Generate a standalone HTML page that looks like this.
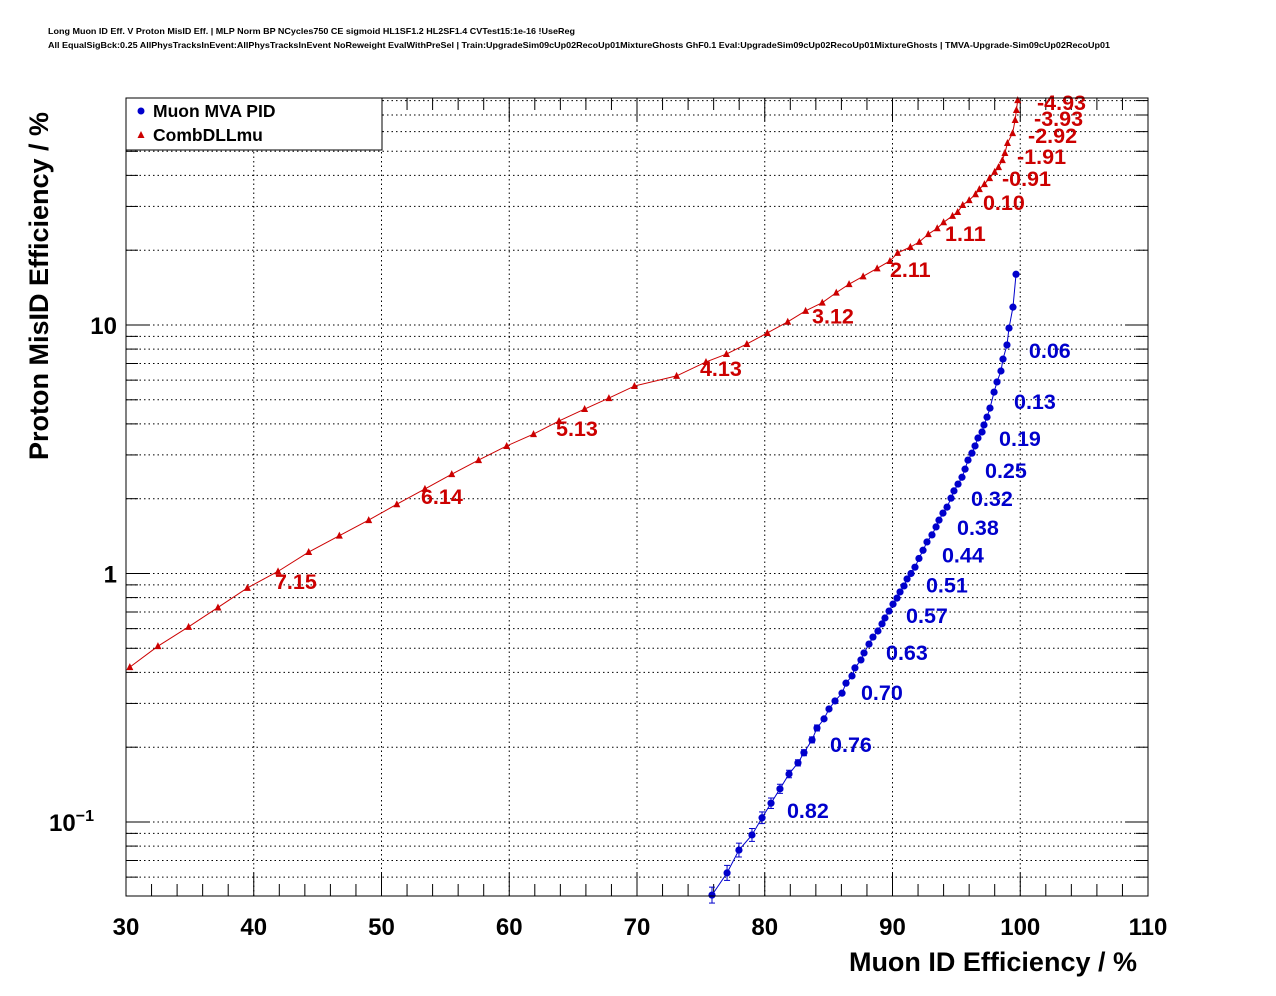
<!DOCTYPE html>
<html><head><meta charset="utf-8"><style>
body{margin:0;background:#fff;}
svg{display:block;font-family:"Liberation Sans",sans-serif;}
</style></head><body>
<svg id="chart" width="1276" height="996">
<text x="48" y="34" font-size="8.5" font-weight="bold" textLength="527" lengthAdjust="spacingAndGlyphs">Long Muon ID Eff. V Proton MisID Eff. | MLP Norm BP NCycles750 CE sigmoid HL1SF1.2 HL2SF1.4 CVTest15:1e-16 !UseReg</text>
<text x="48" y="48" font-size="8.5" font-weight="bold" textLength="1062" lengthAdjust="spacingAndGlyphs">All EqualSigBck:0.25 AllPhysTracksInEvent:AllPhysTracksInEvent NoReweight EvalWithPreSel | Train:UpgradeSim09cUp02RecoUp01MixtureGhosts GhF0.1 Eval:UpgradeSim09cUp02RecoUp01MixtureGhosts | TMVA-Upgrade-Sim09cUp02RecoUp01</text>
<g id="grid"></g><g id="ticks"></g><g id="series"></g>
<rect x="126" y="98" width="1022" height="798" fill="none" stroke="#000" stroke-width="1"/>
<g>
<rect x="126" y="98" width="256" height="52" fill="#fff" stroke="#000" stroke-width="1"/>
<circle cx="141" cy="111" r="3.5" fill="#0000cc"/>
<text x="153" y="117" font-size="17.5" font-weight="bold">Muon MVA PID</text>
<polygon points="141,131 137.5,138 144.5,138" fill="#cc0000"/>
<text x="153" y="141" font-size="17.5" font-weight="bold">CombDLLmu</text>
</g>
<text x="1137" y="971" font-size="27" font-weight="bold" text-anchor="end">Muon ID Efficiency / %</text>
<text transform="translate(48,286) rotate(-90)" font-size="27" font-weight="bold" text-anchor="middle">Proton MisID Efficiency / %</text>
</svg>
<script>
const xTicks=[30,40,50,60,70,80,90,100,110];
const yMajor=[0.1,1,10];
const redX=[30.3,32.5,34.9,37.2,39.5,41.9,44.3,46.7,49.0,51.2,53.4,55.5,57.6,59.8,61.9,63.9,65.9,67.8,69.8,73.1,75.4,77.0,78.6,80.2,81.8,83.2,84.5,85.6,86.6,87.7,88.8,89.8,90.4,91.4,92.1,92.8,93.5,94.0,94.7,95.1,95.5,96.0,96.5,96.8,97.2,97.6,98.0,98.3,98.6,98.8,99.0,99.4,99.6,99.7,99.8];
const redY=[0.42,0.51,0.61,0.73,0.875,1.02,1.22,1.42,1.64,1.9,2.19,2.51,2.86,3.26,3.64,4.11,4.59,5.08,5.68,6.24,7.1,7.64,8.39,9.29,10.3,11.4,12.3,13.5,14.6,15.7,16.9,18.1,19.5,20.6,21.6,23.2,24.5,25.9,27.5,28.5,30.4,31.8,33.6,35.2,36.9,39.0,41.3,43.2,46.1,49.2,54.0,59.2,66.8,73.3,80.3];
const blueX=[75.87,77.05,77.98,79.00,79.79,80.49,81.19,81.90,82.60,83.07,83.70,84.09,84.64,85.03,85.50,86.05,86.36,86.83,87.06,87.53,87.77,88.16,88.47,88.86,89.18,89.41,89.73,90.04,90.35,90.59,90.90,91.14,91.45,91.76,92.07,92.39,92.70,93.09,93.41,93.64,93.95,94.27,94.58,94.81,95.13,95.44,95.68,95.91,96.22,96.46,96.69,97.01,97.16,97.40,97.63,97.95,98.18,98.49,98.65,98.96,99.12,99.43,99.67];
const blueY=[0.0508,0.0624,0.0771,0.0887,0.104,0.119,0.136,0.156,0.173,0.190,0.214,0.239,0.260,0.285,0.307,0.330,0.362,0.387,0.417,0.449,0.479,0.520,0.555,0.587,0.627,0.662,0.706,0.753,0.796,0.843,0.891,0.951,1.00,1.06,1.15,1.24,1.34,1.43,1.54,1.64,1.75,1.85,2.01,2.15,2.29,2.44,2.63,2.86,3.05,3.26,3.51,3.71,3.96,4.26,4.63,5.37,5.90,6.53,7.29,8.31,9.72,11.8,16.0];
const redLabels=["7.15","6.14","5.13","4.13","3.12","2.11","1.11","0.10","-0.91","-1.91","-2.92","-3.93","-4.93"];
const redLabelX=[41.66,53.09,63.66,74.93,83.70,89.80,94.11,97.08,98.57,99.75,100.61,101.08,101.31];
const redLabelY=[0.933,2.05,3.85,6.71,10.9,16.8,23.4,31.3,39.1,47.9,58.2,68.1,78.9];
const blueLabels=["0.06","0.13","0.19","0.25","0.32","0.38","0.44","0.51","0.57","0.63","0.70","0.76","0.82"];
const blueLabelX=[100.68,99.51,98.34,97.24,96.14,95.05,93.87,92.62,91.06,89.49,87.53,85.11,81.74];
const blueLabelY=[7.94,4.94,3.51,2.61,2.01,1.54,1.19,0.903,0.680,0.483,0.333,0.206,0.112];

const L=126,R=1148,T=98,B=896;
const X=v=>L+(v-30)*(R-L)/80;
const Y=v=>325-(Math.log10(v)-1)*248.5;
const NS="http://www.w3.org/2000/svg";
function mk(tag,attrs,parent){const e=document.createElementNS(NS,tag);for(const k in attrs)e.setAttribute(k,attrs[k]);parent.appendChild(e);return e;}
const grid=document.getElementById('grid'),ticks=document.getElementById('ticks'),ser=document.getElementById('series'),svg=document.getElementById('chart');
for(const t of xTicks){
  const x=X(t);
  if(t>30&&t<110){const g=mk('line',{x1:x,x2:x,y1:T,y2:B,stroke:'#000','stroke-dasharray':'1.5,3','stroke-width':1},grid);
  
  }
  const lb=mk('text',{x:x,y:935,'font-size':24,'font-weight':'bold','text-anchor':'middle'},svg);
  lb.textContent=t;
  
  
}
for(let v=30;v<=110;v+=2){const x=X(v);const len=(v%10===0)?23:12;
  mk('line',{x1:x,x2:x,y1:B,y2:B-len,stroke:'#000'},ticks);
  mk('line',{x1:x,x2:x,y1:T,y2:T+len,stroke:'#000'},ticks);}
for(const d of [0.01,0.1,1,10]){for(let m=1;m<=9;m++){const v=d*m;const y=Y(v);if(y<T||y>B)continue;
  const g=mk('line',{x1:L,x2:R,y1:y,y2:y,stroke:'#000','stroke-dasharray':'1.5,3'},grid);
  
  
  const len=m===1?23:12;
  mk('line',{x1:L,x2:L+len,y1:y,y2:y,stroke:'#000'},ticks);
  mk('line',{x1:R,x2:R-len,y1:y,y2:y,stroke:'#000'},ticks);}}
yMajor.forEach((v,i)=>{const t=mk('text',{x:117,y:Y(v)+9,'font-size':24,'font-weight':'bold','text-anchor':'end'},svg);
  
  
  if(v===0.1){t.setAttribute('x',94);t.textContent='10';const s=mk('tspan',{dy:-10,'font-size':16},t);s.textContent='−1';}
  else t.textContent=v;});
const rp=redX.map((x,i)=>X(x)+','+Y(redY[i])).join(' ');
const rl=mk('polyline',{points:rp,fill:'none',stroke:'#cc0000','stroke-width':1},ser);


redX.forEach((x,i)=>{const cx=X(x),cy=Y(redY[i]);
  const p=mk('polygon',{points:`${cx},${cy-4} ${cx-3.5},${cy+3} ${cx+3.5},${cy+3}`,fill:'#cc0000'},ser);
  
  });
const bp=blueX.map((x,i)=>X(x)+','+Y(blueY[i])).join(' ');
const bl=mk('polyline',{points:bp,fill:'none',stroke:'#0000cc','stroke-width':1},ser);


blueX.forEach((x,i)=>{const cx=X(x),cy=Y(blueY[i]);
  if(blueY[i]<0.25){const e=Math.max(3,(0.25-blueY[i])*40);
    mk('line',{x1:cx,x2:cx,y1:cy-e,y2:cy+e,stroke:'#0000cc'},ser);
    mk('line',{x1:cx-3,x2:cx+3,y1:cy-e,y2:cy-e,stroke:'#0000cc'},ser);
    mk('line',{x1:cx-3,x2:cx+3,y1:cy+e,y2:cy+e,stroke:'#0000cc'},ser);}
  const c=mk('circle',{cx:cx,cy:cy,r:3.6,fill:'#0000cc'},ser);
  
  });
redLabels.forEach((s,i)=>{const t=mk('text',{x:X(redLabelX[i]),y:Y(redLabelY[i])+8,'font-size':21.5,'font-weight':'bold',fill:'#cc0000'},ser);
  t.textContent=s;
  
  });
blueLabels.forEach((s,i)=>{const t=mk('text',{x:X(blueLabelX[i]),y:Y(blueLabelY[i])+8,'font-size':21.5,'font-weight':'bold',fill:'#0000cc'},ser);
  t.textContent=s;
  
  });
</script>
</body></html>
